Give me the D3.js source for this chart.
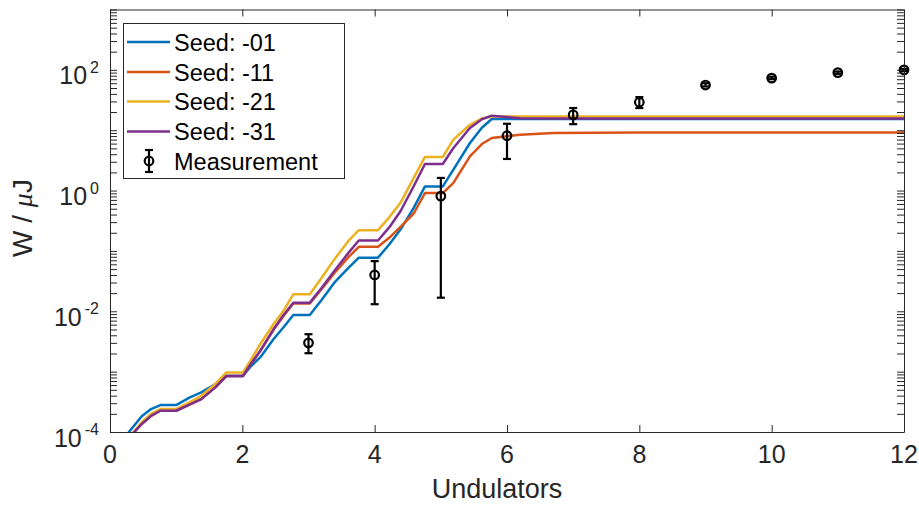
<!DOCTYPE html>
<html>
<head>
<meta charset="utf-8">
<script src="https://cdn.jsdelivr.net/npm/d3@7"></script>
<style>
  body { margin: 0; background: #fff; }
  text { font-family: "Liberation Sans", Arial, Helvetica, sans-serif; }
</style>
</head>
<body>
<svg id="chart" width="919" height="505"></svg>
<script>
// simulated pulse energy along the undulator line (uJ)
const simX = [0.28, 0.48, 0.62, 0.76, 1.0, 1.2, 1.38, 1.6, 1.76, 2.01, 2.12, 2.27, 2.47, 2.62, 2.77, 3.02, 3.2, 3.39, 3.6, 3.76, 4.05,
              4.22, 4.39, 4.59, 4.76, 5.03, 5.19, 5.44, 5.62, 5.77, 6.2, 6.7, 8, 10, 12]
const seed01 = [9.8e-5, 1.82e-4, 2.4e-4, 2.79e-4, 2.79e-4, 3.7e-4, 4.53e-4, 6.3e-4, 8.5e-4, 8.5e-4, 1.2e-3, 1.72e-3, 3.44e-3, 5.38e-3, 8.7e-3, 8.7e-3,
                0.0155, 0.0298, 0.052, 0.0773, 0.0773, 0.128, 0.226, 0.518, 1.17, 1.17, 2.22, 6.14, 11.0, 15.3, 15.3, 15.3, 15.3, 15.3, 15.3]
const seed11 = [7.9e-5, 1.36e-4, 1.85e-4, 2.25e-4, 2.25e-4, 2.85e-4, 3.5e-4, 5.6e-4, 8.5e-4, 8.5e-4, 1.3e-3, 2.19e-3, 4.9e-3, 8.3e-3, 0.0135, 0.0135,
                0.0235, 0.0427, 0.078, 0.117, 0.117, 0.165, 0.251, 0.417, 0.91, 0.91, 1.34, 3.69, 5.9, 7.43, 8.43, 8.99, 9.16, 9.2, 9.2]
const seed21 = [7.9e-5, 1.45e-4, 2.0e-4, 2.4e-4, 2.4e-4, 3.1e-4, 3.98e-4, 6.4e-4, 9.7e-4, 9.7e-4, 1.5e-3, 2.85e-3, 6.1e-3, 0.0101, 0.0191, 0.0191,
                0.036, 0.0724, 0.145, 0.221, 0.221, 0.36, 0.627, 1.62, 3.61, 3.61, 6.97, 12.3, 15.6, 16.9, 16.9, 16.9, 16.9, 16.9, 16.9]
const seed31 = [7.9e-5, 1.36e-4, 1.85e-4, 2.25e-4, 2.25e-4, 2.85e-4, 3.5e-4, 5.6e-4, 8.5e-4, 8.5e-4, 1.3e-3, 2.21e-3, 5.03e-3, 8.6e-3, 0.0139, 0.0139,
                0.0245, 0.0463, 0.092, 0.149, 0.149, 0.245, 0.455, 1.18, 2.75, 2.75, 5.08, 10.9, 15.2, 17.4, 15.8, 15.7, 15.7, 15.7, 15.7]

const seedNames = ["Seed: -01", "Seed: -11", "Seed: -21", "Seed: -31"]
const seedColors = ["#0072bd", "#d95319", "#edb120", "#7e2f8e"]

// measured points with error bars
const measX = [3, 4, 5, 6, 7, 8, 9, 10, 11, 12]
const measY = [3.0e-3, 0.040, 0.81, 8.1, 18, 29, 56, 73, 90, 100]
const measLo = [2.02e-3, 0.0131, 0.0168, 3.34, 12.6, 23.3, 53, 70, 86, 96]
const measHi = [4.17e-3, 0.0678, 1.62, 12.8, 23.3, 35.4, 60, 77, 94, 104]

const xTicks = [0, 2, 4, 6, 8, 10, 12]
const yLabelExp = [-4, -2, 0, 2]

const axisColor = "#262626"
const box = { left: 110, right: 904, top: 9.5, bottom: 432 }

const svg = d3.select("#chart")
const x = d3.scaleLinear().domain([0, 12]).range([box.left, box.right])
const y = d3.scaleLog().domain([1e-4, 1e3]).range([box.bottom, box.top])

// tick positions for log axis: 1..9 per decade
let yTicks = []
for (let k = -4; k < 3; k++) for (let m = 1; m < 10; m++) yTicks.push(m * Math.pow(10, k))
yTicks.push(1e3)

svg.append("clipPath").attr("id", "plotclip")
    .append("rect")
    .attr("x", box.left).attr("y", box.top)
    .attr("width", box.right - box.left).attr("height", box.bottom - box.top)

// curves
const line = d3.line()
    .x((d) => x(d[0]))
    .y((d) => y(d[1]))

const curves = svg.append("g").attr("clip-path", "url(#plotclip)")
const allSeeds = [seed01, seed11, seed21, seed31]
allSeeds.forEach((vals, i) => {
    curves.append("path")
        .datum(simX.map((v, j) => [v, vals[j]]))
        .attr("d", line)
        .attr("fill", "none")
        .attr("stroke", seedColors[i])
        .attr("stroke-width", 2.5)
        .attr("stroke-linejoin", "round")
})

// measurement error bars
const meas = svg.append("g")
measX.forEach((mx, i) => {
    let px = x(mx)
    let g = meas.append("g").attr("stroke", "#000").attr("stroke-width", 2.2).attr("fill", "none")
    g.append("line").attr("x1", px).attr("x2", px).attr("y1", y(measLo[i])).attr("y2", y(measHi[i]))
    g.append("line").attr("x1", px - 4).attr("x2", px + 4).attr("y1", y(measLo[i])).attr("y2", y(measLo[i]))
    g.append("line").attr("x1", px - 4).attr("x2", px + 4).attr("y1", y(measHi[i])).attr("y2", y(measHi[i]))
    g.append("circle").attr("cx", px).attr("cy", y(measY[i])).attr("r", 4.3)
})

// axes, ticks pointing inward on all sides
function styleAxis(g) {
    g.selectAll("path").attr("stroke", axisColor)
    g.selectAll("line").attr("stroke", axisColor)
    g.selectAll("text").remove()
}
svg.append("g").attr("transform", `translate(${box.left},0)`)
    .call(d3.axisLeft(y).tickValues(yTicks).tickSize(-7).tickSizeOuter(0).tickFormat(""))
    .call(styleAxis)
svg.append("g").attr("transform", `translate(${box.right},0)`)
    .call(d3.axisRight(y).tickValues(yTicks).tickSize(-7).tickSizeOuter(0).tickFormat(""))
    .call(styleAxis)
svg.append("g").attr("transform", `translate(0,${box.bottom})`)
    .call(d3.axisBottom(x).tickValues(xTicks).tickSize(-7).tickSizeOuter(0).tickFormat(""))
    .call(styleAxis)
svg.append("g").attr("transform", `translate(0,${box.top})`)
    .call(d3.axisTop(x).tickValues(xTicks).tickSize(-7).tickSizeOuter(0).tickFormat(""))
    .call(styleAxis)

// tick labels
svg.append("g").selectAll("text").data(xTicks).join("text")
    .attr("x", (d) => x(d)).attr("y", 463)
    .attr("text-anchor", "middle").attr("font-size", 25).attr("fill", axisColor)
    .text((d) => d)

const ylab = svg.append("g").selectAll("text").data(yLabelExp).join("text")
    .attr("x", 99).attr("y", (d) => y(Math.pow(10, d)) + 14.5)
    .attr("text-anchor", "end").attr("font-size", 25).attr("fill", axisColor)
ylab.append("tspan").text("10")
ylab.append("tspan").attr("dx", 3).attr("dy", -11.5).attr("font-size", 16).text((d) => d)

// axis titles
svg.append("text")
    .attr("x", 497).attr("y", 498)
    .attr("text-anchor", "middle").attr("font-size", 27).attr("fill", axisColor)
    .text("Undulators")

const yt = svg.append("text")
    .attr("transform", "translate(32,218) rotate(-90)")
    .attr("text-anchor", "middle").attr("font-size", 28).attr("fill", axisColor)
yt.append("tspan").text("W / ")
yt.append("tspan").attr("font-family", "'Liberation Serif', serif").attr("font-style", "italic").text("\u03bc")
yt.append("tspan").text("J")

// legend
const legend = svg.append("g")
legend.append("rect")
    .attr("x", 123.5).attr("y", 23.5).attr("width", 221).attr("height", 155)
    .attr("fill", "#fff").attr("stroke", axisColor).attr("stroke-width", 1)

const rowY = [42, 72, 101.5, 131.5, 161]
seedNames.forEach((name, i) => {
    legend.append("line")
        .attr("x1", 127).attr("x2", 170).attr("y1", rowY[i]).attr("y2", rowY[i])
        .attr("stroke", seedColors[i]).attr("stroke-width", 2.5)
    legend.append("text")
        .attr("x", 174).attr("y", rowY[i] + 8.5)
        .attr("font-size", 23.5).attr("fill", "#000")
        .text(name)
})
let ly = rowY[4]
let lg = legend.append("g").attr("stroke", "#000").attr("stroke-width", 2.2).attr("fill", "none")
lg.append("line").attr("x1", 149).attr("x2", 149).attr("y1", ly - 11).attr("y2", ly + 11)
lg.append("line").attr("x1", 145).attr("x2", 153).attr("y1", ly - 11).attr("y2", ly - 11)
lg.append("line").attr("x1", 145).attr("x2", 153).attr("y1", ly + 11).attr("y2", ly + 11)
lg.append("circle").attr("cx", 149).attr("cy", ly).attr("r", 4.3)
legend.append("text")
    .attr("x", 174).attr("y", ly + 8.5)
    .attr("font-size", 23.5).attr("fill", "#000")
    .text("Measurement")
</script>
</body>
</html>
